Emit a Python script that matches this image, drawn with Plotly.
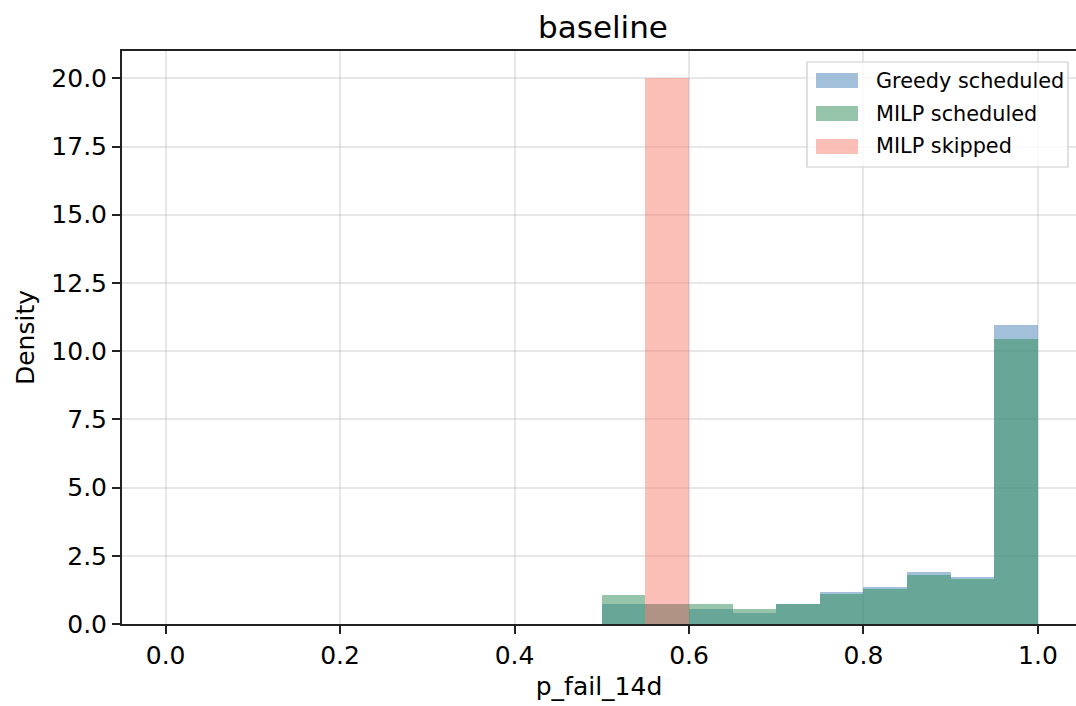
import plotly.graph_objects as go

# ---- data (histogram densities, bin width 0.05 on [0, 1]) ----
bin_edges = [0.00, 0.05, 0.10, 0.15, 0.20, 0.25, 0.30, 0.35, 0.40, 0.45,
             0.50, 0.55, 0.60, 0.65, 0.70, 0.75, 0.80, 0.85, 0.90, 0.95, 1.00]
greedy_scheduled = [0, 0, 0, 0, 0, 0, 0, 0, 0, 0,
                    0.75, 0.74, 0.56, 0.39, 0.74, 1.16, 1.35, 1.90, 1.72, 10.97]
milp_scheduled = [0, 0, 0, 0, 0, 0, 0, 0, 0, 0,
                  1.06, 0.74, 0.74, 0.56, 0.74, 1.09, 1.27, 1.81, 1.64, 10.46]
milp_skipped = [0, 0, 0, 0, 0, 0, 0, 0, 0, 0,
                0, 20.0, 0, 0, 0, 0, 0, 0, 0, 0]
series_names = ["Greedy scheduled", "MILP scheduled", "MILP skipped"]
x_ticks = [0.0, 0.2, 0.4, 0.6, 0.8, 1.0]
y_ticks = [0.0, 2.5, 5.0, 7.5, 10.0, 12.5, 15.0, 17.5, 20.0]

colors = ["rgba(70,130,180,0.5)", "rgba(46,139,87,0.5)", "rgba(250,128,114,0.5)"]
FONT = "DejaVu Sans"
W, H = 1076, 706
L, R, T, B = 122, 0, 51, 82
PW, PH = W - L - R, H - T - B

centers = [(a + b) / 2 for a, b in zip(bin_edges[:-1], bin_edges[1:])]
widths = [b - a for a, b in zip(bin_edges[:-1], bin_edges[1:])]

fig = go.Figure()
for name, vals, c in zip(series_names, [greedy_scheduled, milp_scheduled, milp_skipped], colors):
    fig.add_trace(go.Bar(x=centers, y=vals, width=widths, name=name,
                         marker=dict(color=c, line=dict(width=0)),
                         showlegend=False))

# x range: matplotlib margins, right spine cropped off in reference
px_per_unit = 872.3
x_min = -0.05
x_max = x_min + PW / px_per_unit

def px(X):
    return (X - L) / PW

def py(Y):
    return (H - B - Y) / PH

shapes = []
annotations = []
# legend box
shapes.append(dict(type="rect", xref="paper", yref="paper",
                   x0=px(807), x1=px(1068), y0=py(167), y1=py(62),
                   line=dict(color="rgba(204,204,204,1)", width=1.2),
                   fillcolor="rgba(255,255,255,0.8)", layer="above"))
rows = [(73, 88, 81), (106, 121, 114), (139, 154, 146)]
for (y0, y1, yc), name, c in zip(rows, series_names, colors):
    shapes.append(dict(type="rect", xref="paper", yref="paper",
                       x0=px(816), x1=px(858), y0=py(y1), y1=py(y0),
                       line=dict(width=0), fillcolor=c, layer="above"))
    annotations.append(dict(text=name, xref="paper", yref="paper",
                            x=px(874), y=py(yc), xanchor="left", yanchor="middle",
                            showarrow=False, font=dict(family=FONT, size=20.8, color="#000")))

fig.update_layout(
    width=W, height=H,
    margin=dict(l=L, r=R, t=T, b=B, pad=0),
    paper_bgcolor="white", plot_bgcolor="white",
    barmode="overlay", bargap=0,
    font=dict(family=FONT, size=25, color="#000"),
    title=dict(text="baseline", x=px(603), xref="paper", xanchor="center",
               y=1 - 27 / H, yref="container", yanchor="middle",
               font=dict(family=FONT, size=31, color="#000")),
    shapes=shapes, annotations=annotations,
    showlegend=False,
)
fig.update_xaxes(
    range=[x_min, x_max], tickvals=x_ticks, ticktext=[f"{v:.1f}" for v in x_ticks],
    tickfont=dict(family=FONT, size=25),
    showgrid=True, gridcolor="rgba(176,176,176,0.3)", gridwidth=1.5,
    showline=True, linecolor="#222", linewidth=2, mirror=True,
    ticks="outside", ticklen=8, tickwidth=2, tickcolor="#222",
    zeroline=False,
    title=dict(text="p_fail_14d", standoff=8, font=dict(family=FONT, size=25)),
)
fig.update_yaxes(
    range=[0, 21], tickvals=y_ticks, ticktext=[f"{v:.1f}" for v in y_ticks],
    tickfont=dict(family=FONT, size=25),
    showgrid=True, gridcolor="rgba(176,176,176,0.3)", gridwidth=1.5,
    showline=True, linecolor="#222", linewidth=2, mirror=False,
    ticks="outside", ticklen=8, tickwidth=2, tickcolor="#222",
    zeroline=False,
    title=dict(text="Density", standoff=10, font=dict(family=FONT, size=25)),
)

fig.write_html("out.html")
